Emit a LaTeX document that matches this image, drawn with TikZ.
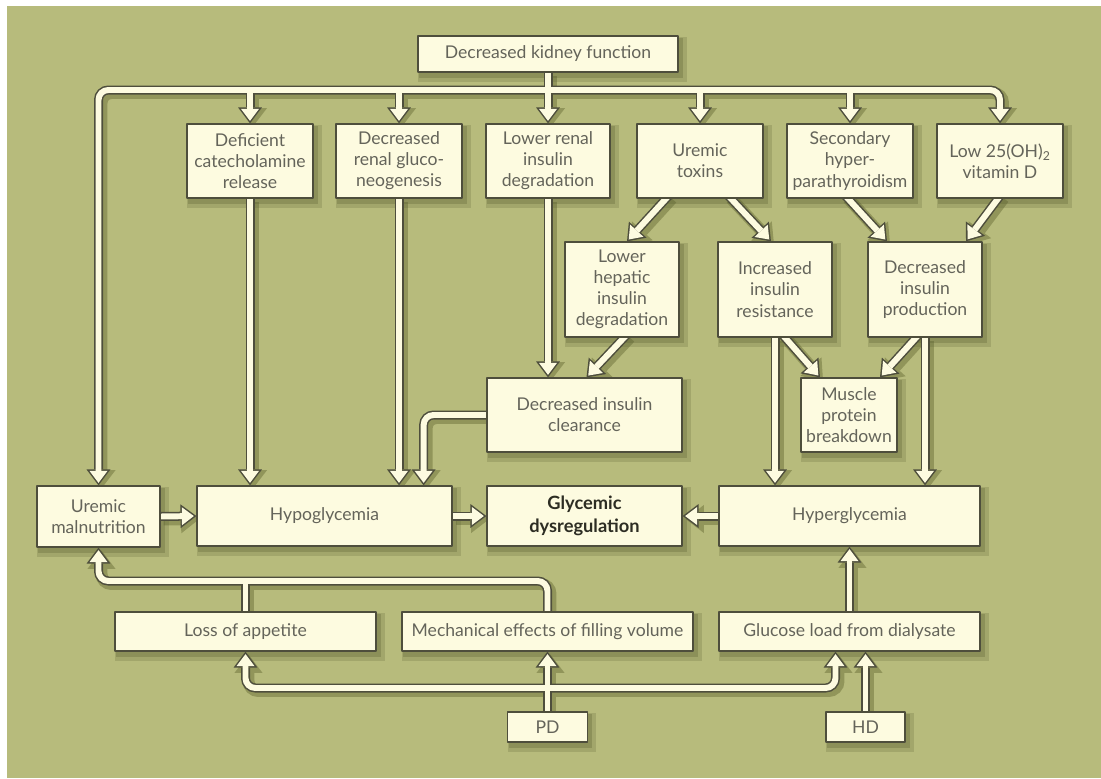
\documentclass[tikz,border=0pt]{standalone}
\usepackage{fontspec}
\setmainfont{Lato}
\usetikzlibrary{arrows.meta,calc}
\definecolor{bgolive}{RGB}{183,187,124}
\definecolor{boxcream}{RGB}{253,251,224}
\definecolor{boxedge}{RGB}{78,78,60}
\definecolor{inkgray}{RGB}{100,100,90}
\definecolor{inkdark}{RGB}{45,45,35}
\definecolor{shadegreen}{RGB}{90,95,50}
\definecolor{pipeshade}{RGB}{145,149,90}
\newcommand{\pxu}{0.025cm}
\pgfdeclarelayer{back}
\pgfdeclarelayer{shade}
\pgfdeclarelayer{pipes}
\pgfsetlayers{back,shade,pipes,main}
\newcommand{\drawpipes}{%
\draw[pipe] (kidney.south) -- (kidney.south |- topbar);
\draw[pipe,head,rounded corners=7pt] (kidney.south |- topbar) -| (malnut.north);
\draw[pipe,head,rounded corners=7pt] (kidney.south |- topbar) -| (vitd.north);
\foreach \n in {defcat,renglu,renins,toxins,hpt}
  \draw[pipe,head] (\n.north |- topbar) -- (\n.north);
\draw[pipe,head] (defcat.south) -- (defcat.south |- hypo.north);
\draw[pipe,head] (renglu.south) -- (renglu.south |- hypo.north);
\draw[pipe,head] (renins.south) -- (renins.south |- clear.north);
\draw[pipe,head,rounded corners=7pt] (clear.west) -| ($(hypo.north east)+(-29,0)$);
\draw[pipe,head,slant] ($(toxins.south)+(-34,0)$) -- ($(hepatic.north)+(5,0)$);
\draw[pipe,head,slant] ($(toxins.south)+(31,0)$) -- ($(resist.north)+(-4,0)$);
\draw[pipe,head,slant] ($(hpt.south)+(-2,0)$) -- ($(prod.north)+(-38,0)$);
\draw[pipe,head,slant] ($(vitd.south)+(-2,0)$) -- ($(prod.north)+(41,0)$);
\draw[pipe,head,slant] ($(hepatic.south)+(2,0)$) -- ($(clear.north)+(2,0)$);
\draw[pipe,head] (resist.south) -- (resist.south |- hyper.north);
\draw[pipe,head,slant] ($(resist.south)+(10,0)$) -- ($(muscle.north)+(-29,0)$);
\draw[pipe,head] (prod.south) -- (prod.south |- hyper.north);
\draw[pipe,head,slant] ($(prod.south)+(-9,0)$) -- ($(muscle.north)+(31,0)$);
\draw[pipe,head] (malnut.east) -- (hypo.west);
\draw[pipe,head] (hypo.east) -- (glyc.west);
\draw[pipe,head] (hyper.west) -- (glyc.east);
\draw[pipe,head] (glucose.north) -- (hyper.south);
\draw[pipe,head,rounded corners=7pt] (mech.north) |- (malnut.south |- lowbar) -- (malnut.south);
\draw[pipe] (appetite.north) -- (appetite.north |- lowbar);
\draw[pipe,head] (pd.north) -- (mech.south);
\draw[pipe,head,rounded corners=7pt] (pd.north |- pdbar) -| (appetite.south);
\draw[pipe,head,rounded corners=7pt] (pd.north |- pdbar) -| ($(glucose.south)+(-14,0)$);
\draw[pipe,head] (hd.north) -- (hd.north |- glucose.south);
}
\begin{document}
\begin{tikzpicture}[x=0.025cm,y=-0.025cm,line join=round,
  box/.style={draw=boxedge,fill=boxcream,line width=0.9pt,text=inkgray,align=center,inner sep=1pt,font=\fontsize{12.5}{15}\selectfont},
  boxsize/.style 2 args={minimum width=#1*\pxu,minimum height=#2*\pxu},
  slant/.style={shorten <=-3pt}]
\useasboundingbox (0,0) rectangle (1101,778);
\begin{pgfonlayer}{back}
\fill[white] (0,0) rectangle (1101,778);
\fill[bgolive] (7,6) rectangle (1101,778);
\end{pgfonlayer}
\node[box,boxsize={260}{36}] (kidney) at (548,54) {Decreased kidney function};
\node[box,boxsize={126}{74}] (defcat) at (250,161) {Deficient\\catecholamine\\release};
\node[box,boxsize={126}{74}] (renglu) at (399,161) {Decreased\\renal gluco-\\neogenesis};
\node[box,boxsize={124}{74}] (renins) at (548,161) {Lower renal\\insulin\\degradation};
\node[box,boxsize={126}{74}] (toxins) at (700,161) {Uremic\\toxins};
\node[box,boxsize={126}{74}] (hpt) at (850,161) {Secondary\\hyper-\\parathyroidism};
\node[box,boxsize={126}{74}] (vitd) at (1000,161) {Low 25(OH)\textsubscript{2}\\vitamin D};
\node[box,boxsize={114}{95}] (hepatic) at (622,289.5) {Lower\\hepatic\\insulin\\degradation};
\node[box,boxsize={114}{95}] (resist) at (775,289.5) {Increased\\insulin\\resistance};
\node[box,boxsize={114}{95}] (prod) at (925,289.5) {Decreased\\insulin\\production};
\node[box,boxsize={195}{74}] (clear) at (584.5,415) {Decreased insulin\\clearance};
\node[box,boxsize={96}{74}] (muscle) at (849,415) {Muscle\\protein\\breakdown};
\node[box,boxsize={123}{61}] (malnut) at (98.5,516.5) {Uremic\\malnutrition};
\node[box,boxsize={255}{60}] (hypo) at (324.5,516) {Hypoglycemia};
\node[box,boxsize={195}{60},text=inkdark,font=\fontsize{13}{16.5}\selectfont\bfseries] (glyc) at (584.5,516) {Glycemic\\dysregulation};
\node[box,boxsize={261}{60}] (hyper) at (849.5,516) {Hyperglycemia};
\node[box,boxsize={261}{39}] (appetite) at (245.5,631.5) {Loss of appetite};
\node[box,boxsize={291}{39}] (mech) at (547.5,631.5) {Mechanical effects of filling volume};
\node[box,boxsize={261}{39}] (glucose) at (849.5,631.5) {Glucose load from dialysate};
\node[box,boxsize={80}{30}] (pd) at (547.5,727) {PD};
\node[box,boxsize={79}{30}] (hd) at (865.5,727) {HD};
\coordinate (topbar) at (0,90);
\coordinate (lowbar) at (0,581);
\coordinate (pdbar) at (0,688);
\begin{pgfonlayer}{shade}
\tikzset{pipe/.style={draw=pipeshade,line width=8.5pt,transform canvas={shift={(3,3)}}},
  head/.style={-{Triangle[length=13pt,width=20pt,line width=0pt]}}}
\drawpipes
\foreach \n in {kidney,defcat,renglu,renins,toxins,hpt,vitd,hepatic,resist,prod,clear,muscle,malnut,hypo,glyc,hyper,appetite,mech,glucose,pd,hd}{
  \fill[shadegreen,opacity=.22] ($(\n.north west)+(1,2)$) rectangle ($(\n.south east)+(8,9)$);
  \fill[shadegreen,opacity=.3] ($(\n.north west)+(2,3)$) rectangle ($(\n.south east)+(4,5)$);}
\end{pgfonlayer}
\begin{pgfonlayer}{pipes}
\tikzset{pipe/.style={draw=boxedge,line width=6.4pt},
  head/.style={-{Triangle[length=11.3pt,width=17pt,line width=0pt]}}}
\drawpipes
\tikzset{pipe/.style={draw=boxcream,line width=4.25pt},
  head/.style={-{Triangle[length=8.5pt,width=12.8pt,line width=0pt]},shorten >=1.8pt}}
\drawpipes
\end{pgfonlayer}
\end{tikzpicture}
\end{document}
